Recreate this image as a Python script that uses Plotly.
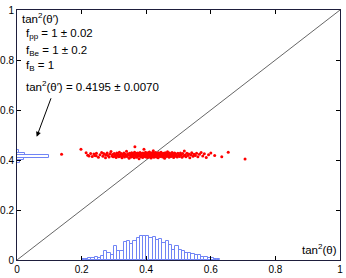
import plotly.graph_objects as go

# ---- data ----
TICK_VALS = [0, 0.2, 0.4, 0.6, 0.8, 1]
TICK_TEXT = ["0", "0.2", "0.4", "0.6", "0.8", "1"]

DIAG_X = [0, 1]
DIAG_Y = [0, 1]

# bottom histogram of tan^2(theta) (bin centres, heights)
HX_CENTERS = [0.205, 0.215, 0.225, 0.235, 0.245, 0.255, 0.265, 0.275, 0.285, 0.295,
              0.305, 0.315, 0.325, 0.335, 0.345, 0.355, 0.365, 0.375, 0.385, 0.395,
              0.405, 0.415, 0.425, 0.435, 0.445, 0.455, 0.465, 0.475, 0.485, 0.495,
              0.505, 0.515, 0.525, 0.535, 0.545, 0.555, 0.565, 0.575, 0.585, 0.595,
              0.605, 0.615, 0.625]
HX_HEIGHTS = [0.004, 0.006, 0.007, 0.009, 0.012, 0.010, 0.016, 0.035, 0.030, 0.020,
              0.055, 0.036, 0.036, 0.072, 0.076, 0.065, 0.078, 0.090, 0.097, 0.098,
              0.095, 0.088, 0.092, 0.080, 0.086, 0.068, 0.078, 0.060, 0.040, 0.056,
              0.040, 0.038, 0.030, 0.030, 0.024, 0.022, 0.020, 0.014, 0.012, 0.007,
              0.010, 0.005, 0.003]

# left histogram of tan^2(theta') (bin centres, lengths)
HY_CENTERS = [0.395, 0.405, 0.415, 0.425, 0.435]
HY_LENGTHS = [0.008, 0.022, 0.099, 0.024, 0.006]

# scatter of (tan^2(theta), tan^2(theta'))
SCAT_X = [0.138, 0.198,
          0.214, 0.219, 0.228, 0.233, 0.241, 0.246, 0.252, 0.257, 0.262, 0.266, 0.271, 0.274, 0.279,
          0.282, 0.285, 0.288, 0.291, 0.294, 0.296, 0.298, 0.276, 0.268, 0.245, 0.238, 0.223,
          0.301, 0.303, 0.305, 0.307, 0.309, 0.311, 0.313, 0.315, 0.317, 0.319, 0.321, 0.323, 0.325,
          0.327, 0.329, 0.331, 0.333, 0.335, 0.337, 0.339, 0.341, 0.343, 0.345, 0.347, 0.349,
          0.351, 0.352, 0.354, 0.355, 0.357, 0.358, 0.360, 0.361, 0.363, 0.364, 0.365, 0.366, 0.368,
          0.369, 0.371, 0.372, 0.374, 0.375, 0.377, 0.378, 0.380, 0.381, 0.383, 0.384, 0.386, 0.387,
          0.389, 0.390, 0.392, 0.393, 0.394, 0.396, 0.397, 0.398, 0.399,
          0.401, 0.402, 0.403, 0.404, 0.405, 0.406, 0.407, 0.408, 0.409, 0.410, 0.411, 0.412, 0.413,
          0.414, 0.415, 0.416, 0.417, 0.418, 0.419, 0.420, 0.421, 0.422, 0.423, 0.424, 0.425, 0.426,
          0.427, 0.428, 0.429, 0.430, 0.432, 0.433, 0.434, 0.436, 0.437, 0.438, 0.440, 0.441, 0.443,
          0.444, 0.446, 0.447, 0.449,
          0.450, 0.451, 0.453, 0.454, 0.456, 0.457, 0.459, 0.460, 0.462, 0.463, 0.465, 0.466, 0.468,
          0.469, 0.471, 0.472, 0.474, 0.475, 0.477, 0.478, 0.480, 0.482, 0.483, 0.485, 0.487, 0.488,
          0.490, 0.492, 0.494, 0.496, 0.498,
          0.501, 0.503, 0.506, 0.508, 0.511, 0.513, 0.516, 0.518, 0.521, 0.523, 0.526, 0.529, 0.532,
          0.535, 0.538, 0.541, 0.545, 0.548,
          0.552, 0.556, 0.560, 0.565, 0.570, 0.575, 0.580, 0.586, 0.593, 0.600, 0.612, 0.634, 0.654,
          0.706]
SCAT_Y = [0.423, 0.443,
          0.429, 0.419, 0.426, 0.414, 0.418, 0.427, 0.411, 0.421, 0.430, 0.415, 0.423, 0.409, 0.428,
          0.418, 0.412, 0.425, 0.434, 0.416, 0.422, 0.413, 0.420, 0.426, 0.417, 0.424, 0.416,
          0.426, 0.415, 0.421, 0.410, 0.428, 0.418, 0.424, 0.413, 0.431, 0.420, 0.415, 0.426, 0.409,
          0.422, 0.417, 0.428, 0.412, 0.423, 0.418, 0.435, 0.414, 0.425, 0.420, 0.407, 0.427,
          0.417, 0.424, 0.412, 0.429, 0.420, 0.414, 0.426, 0.418, 0.409, 0.431, 0.453, 0.422, 0.415,
          0.427, 0.411, 0.420, 0.428, 0.416, 0.423, 0.405, 0.418, 0.430, 0.413, 0.421, 0.426, 0.415,
          0.410, 0.428, 0.420, 0.443, 0.414, 0.425, 0.418, 0.431, 0.412,
          0.422, 0.415, 0.427, 0.410, 0.420, 0.429, 0.414, 0.425, 0.418, 0.432, 0.412, 0.422, 0.416,
          0.427, 0.408, 0.423, 0.418, 0.429, 0.413, 0.425, 0.416, 0.437, 0.421, 0.411, 0.428, 0.418,
          0.424, 0.414, 0.430, 0.420, 0.412, 0.426, 0.416, 0.423, 0.409, 0.429, 0.418, 0.426, 0.414,
          0.422, 0.431, 0.415, 0.424,
          0.420, 0.412, 0.427, 0.416, 0.423, 0.407, 0.429, 0.418, 0.414, 0.426, 0.420, 0.433, 0.415,
          0.423, 0.411, 0.428, 0.418, 0.424, 0.414, 0.421, 0.430, 0.416, 0.426, 0.410, 0.421, 0.428,
          0.415, 0.424, 0.418, 0.412, 0.427,
          0.420, 0.414, 0.428, 0.421, 0.411, 0.426, 0.417, 0.436, 0.420, 0.413, 0.427, 0.418, 0.424,
          0.409, 0.421, 0.429, 0.415, 0.423,
          0.418, 0.427, 0.413, 0.423, 0.430, 0.416, 0.425, 0.410, 0.421, 0.428, 0.418, 0.413, 0.431,
          0.404]

TEXT_LINES = ["tan<sup>2</sup>(θ′)",
              "f<sub>pp</sub> = 1 ± 0.02",
              "f<sub>Be</sub> = 1 ± 0.2",
              "f<sub>B</sub> = 1",
              "tan<sup>2</sup>(θ′) = 0.4195 ± 0.0070"]
X_TITLE = "tan<sup>2</sup>(θ)"

FONT = "Liberation Sans, Arial, sans-serif"
HIST_LINE = "#7084f5"
AXIS_COLOR = "#1e1e3c"

fig = go.Figure()

fig.add_trace(go.Scatter(x=DIAG_X, y=DIAG_Y, mode="lines",
                         line=dict(color="#555555", width=0.9), hoverinfo="skip"))

fig.add_trace(go.Bar(x=HX_CENTERS, y=HX_HEIGHTS, width=0.01,
                     marker=dict(color="rgba(255,255,255,0)",
                                 line=dict(color=HIST_LINE, width=1))))

fig.add_trace(go.Bar(y=HY_CENTERS, x=HY_LENGTHS, width=0.01, orientation="h",
                     marker=dict(color="rgba(255,255,255,0)",
                                 line=dict(color=HIST_LINE, width=1))))

fig.add_trace(go.Scatter(x=SCAT_X, y=SCAT_Y, mode="markers",
                         marker=dict(color="#ff0000", size=3, line=dict(width=0))))

# text block
text_pos = [(0.008, 0.968), (0.022, 0.906), (0.022, 0.838), (0.022, 0.778), (0.022, 0.695)]
for t, (xx, yy) in zip(TEXT_LINES, text_pos):
    fig.add_annotation(x=xx, y=yy, xref="x", yref="y", text=t, showarrow=False,
                       xanchor="left", yanchor="middle",
                       font=dict(family=FONT, size=11.5, color="black"))

# arrow
fig.add_annotation(x=0.061, y=0.493, ax=0.107, ay=0.653, xref="x", yref="y",
                   axref="x", ayref="y", text="", showarrow=True,
                   arrowhead=2, arrowsize=1, arrowwidth=1, arrowcolor="black")

fig.add_annotation(x=0.998, y=0.008, xref="x", yref="y", text=X_TITLE, showarrow=False,
                   xanchor="right", yanchor="bottom",
                   font=dict(family=FONT, size=11.5, color="black"))

axis_common = dict(range=[0, 1], tickvals=TICK_VALS, ticktext=TICK_TEXT,
                   ticks="inside", ticklen=4, tickwidth=1, tickcolor="black",
                   showline=True, linecolor=AXIS_COLOR, linewidth=1, mirror="ticks",
                   showgrid=False, zeroline=False, automargin=False,
                   tickfont=dict(family=FONT, size=10, color="black"))

fig.update_layout(
    width=346, height=278,
    margin=dict(l=17, r=6, t=10, b=18, autoexpand=False),
    paper_bgcolor="white", plot_bgcolor="white",
    showlegend=False, bargap=0, barmode="overlay",
    xaxis=dict(**axis_common),
    yaxis=dict(**axis_common),
)

fig.write_html("out.html", config={"displayModeBar": False},
               post_script="document.body.style.margin='0';document.body.style.padding='0';")
